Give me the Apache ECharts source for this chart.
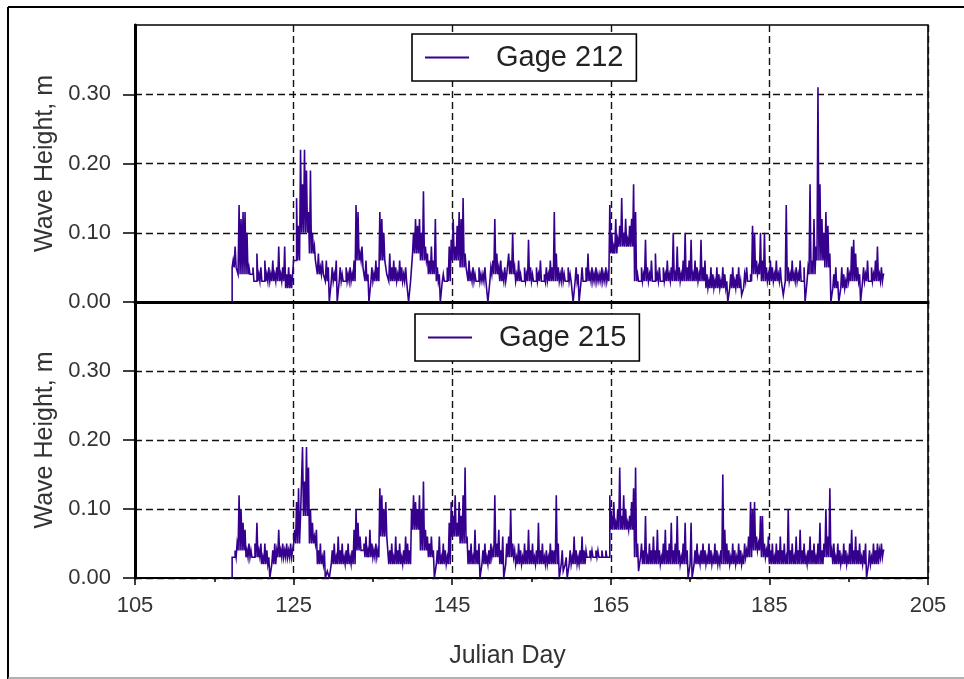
<!DOCTYPE html>
<html>
<head>
<meta charset="utf-8">
<title>Wave Height, Gage 212 and Gage 215</title>
<script src="https://cdn.jsdelivr.net/npm/echarts@6/dist/echarts.min.js"></script>
<style>
  html, body { margin: 0; padding: 0; background: #fff; }
  #chart { width: 964px; height: 679px; }
</style>
</head>
<body>
<div id="chart"></div>
<script>
// Peak readings every 6 hours from Julian day 117.25 to 199.5;
// each is followed, 3 hours later, by that day's trough level.
const DAY0 = 117.25;
const STEP = 0.25;
const FIRST_DAY = 117;

const xTicks = [105, 125, 145, 165, 185, 205];
const yTicks = [0.00, 0.10, 0.20, 0.30];

// Gage 212 wave height peaks, m (one row per Julian day)
const gage212 = [
  0.00, 0.06, 0.08,
  0.05, 0.14, 0.12, 0.13,
  0.13, 0.10, 0.05, 0.04,
  0.05, 0.03, 0.07, 0.04,
  0.05, 0.03, 0.06, 0.04,
  0.05, 0.04, 0.06, 0.04,
  0.05, 0.08, 0.04, 0.05,
  0.08, 0.04, 0.05, 0.04,
  0.02, 0.06, 0.15, 0.11,
  0.22, 0.17, 0.22, 0.19,
  0.13, 0.19, 0.10, 0.08,
  0.06, 0.07, 0.05, 0.06,
  0.04, 0.06, 0.05, 0.00,
  0.05, 0.04, 0.06, 0.00,
  0.05, 0.04, 0.03, 0.05,
  0.04, 0.05, 0.04, 0.06,
  0.14, 0.13, 0.07, 0.08,
  0.05, 0.06, 0.04, 0.00,
  0.05, 0.04, 0.06, 0.05,
  0.13, 0.12, 0.10, 0.06,
  0.04, 0.07, 0.05, 0.06,
  0.05, 0.04, 0.06, 0.05,
  0.04, 0.05, 0.03, 0.00,
  0.05, 0.10, 0.12, 0.11,
  0.12, 0.10, 0.16, 0.08,
  0.07, 0.06, 0.08, 0.06,
  0.12, 0.05, 0.04, 0.00,
  0.04, 0.03, 0.05, 0.08,
  0.09, 0.12, 0.08, 0.11,
  0.13, 0.12, 0.15, 0.07,
  0.05, 0.06, 0.04, 0.05,
  0.04, 0.03, 0.05, 0.04,
  0.04, 0.05, 0.03, 0.00,
  0.05, 0.06, 0.12, 0.07,
  0.05, 0.06, 0.04, 0.05,
  0.04, 0.07, 0.06, 0.10,
  0.05, 0.04, 0.06, 0.04,
  0.03, 0.05, 0.04, 0.09,
  0.05, 0.04, 0.03, 0.05,
  0.04, 0.06, 0.03, 0.04,
  0.05, 0.04, 0.06, 0.05,
  0.13, 0.07, 0.05, 0.04,
  0.05, 0.04, 0.03, 0.05,
  0.04, 0.03, 0.00, 0.05,
  0.04, 0.00, 0.05, 0.03,
  0.05, 0.07, 0.04, 0.05,
  0.04, 0.05, 0.04, 0.04,
  0.05, 0.04, 0.05, 0.04,
  0.14, 0.10, 0.08, 0.12,
  0.09, 0.11, 0.15, 0.10,
  0.12, 0.09, 0.11, 0.12,
  0.17, 0.13, 0.04, 0.03,
  0.05, 0.04, 0.09, 0.05,
  0.04, 0.06, 0.03, 0.07,
  0.04, 0.05, 0.03, 0.05,
  0.04, 0.06, 0.04, 0.05,
  0.10, 0.04, 0.08, 0.05,
  0.04, 0.06, 0.10, 0.05,
  0.06, 0.09, 0.04, 0.06,
  0.05, 0.04, 0.09, 0.05,
  0.06, 0.04, 0.03, 0.05,
  0.04, 0.03, 0.05, 0.04,
  0.03, 0.05, 0.04, 0.03,
  0.00, 0.04, 0.05, 0.03,
  0.04, 0.05, 0.03, 0.01,
  0.04, 0.05, 0.03, 0.04,
  0.11, 0.10, 0.06, 0.05,
  0.10, 0.06, 0.10, 0.05,
  0.04, 0.06, 0.05, 0.04,
  0.06, 0.04, 0.05, 0.03,
  0.01, 0.14, 0.05, 0.04,
  0.06, 0.04, 0.05, 0.04,
  0.06, 0.03, 0.05, 0.00,
  0.05, 0.17, 0.06, 0.12,
  0.08, 0.31, 0.17, 0.12,
  0.10, 0.13, 0.11, 0.07,
  0.00, 0.04, 0.05, 0.03,
  0.00, 0.05, 0.04, 0.03,
  0.05, 0.04, 0.08, 0.09,
  0.07, 0.05, 0.04, 0.00,
  0.05, 0.04, 0.06, 0.03,
  0.05, 0.04, 0.06, 0.08,
  0.04, 0.05, 0.04
];

// Gage 212 daily trough level, m (days 117 to 199)
const gage212Low = [
  0.05, 0.04, 0.04, 0.03, 0.03, 0.03, 0.03, 0.02, 0.06, 0.10,
  0.07, 0.04, 0.03, 0.03, 0.03, 0.03, 0.06, 0.03, 0.03, 0.06,
  0.03, 0.03, 0.03, 0.07, 0.06, 0.04, 0.03, 0.03, 0.06, 0.05,
  0.03, 0.03, 0.03, 0.04, 0.03, 0.04, 0.03, 0.03, 0.03, 0.03,
  0.03, 0.03, 0.03, 0.03, 0.03, 0.03, 0.03, 0.03, 0.07, 0.08,
  0.08, 0.03, 0.03, 0.03, 0.03, 0.03, 0.03, 0.03, 0.03, 0.03,
  0.02, 0.02, 0.02, 0.02, 0.02, 0.03, 0.04, 0.03, 0.03, 0.03,
  0.03, 0.03, 0.03, 0.04, 0.06, 0.05, 0.02, 0.02, 0.03, 0.03,
  0.03, 0.03, 0.03
];

// Gage 215 wave height peaks, m (one row per Julian day)
const gage215 = [
  0.00, 0.03, 0.04,
  0.05, 0.12, 0.10, 0.08,
  0.07, 0.04, 0.05, 0.04,
  0.03, 0.05, 0.08, 0.04,
  0.05, 0.03, 0.05, 0.04,
  0.03, 0.00, 0.04, 0.05,
  0.04, 0.07, 0.04, 0.05,
  0.04, 0.05, 0.04, 0.05,
  0.04, 0.07, 0.11, 0.13,
  0.09, 0.19, 0.14, 0.19,
  0.16, 0.10, 0.08, 0.06,
  0.07, 0.04, 0.05, 0.03,
  0.04, 0.00, 0.01, 0.00,
  0.04, 0.05, 0.03, 0.06,
  0.04, 0.05, 0.03, 0.04,
  0.05, 0.03, 0.04, 0.07,
  0.10, 0.08, 0.06, 0.04,
  0.05, 0.06, 0.04, 0.07,
  0.05, 0.04, 0.05, 0.04,
  0.13, 0.12, 0.10, 0.11,
  0.06, 0.04, 0.05, 0.03,
  0.06, 0.04, 0.05, 0.03,
  0.04, 0.06, 0.05, 0.04,
  0.10, 0.12, 0.11, 0.10,
  0.12, 0.10, 0.14, 0.07,
  0.06, 0.05, 0.06, 0.04,
  0.00, 0.04, 0.06, 0.03,
  0.05, 0.04, 0.03, 0.08,
  0.11, 0.09, 0.12, 0.08,
  0.11, 0.09, 0.12, 0.16,
  0.06, 0.04, 0.05, 0.03,
  0.07, 0.04, 0.05, 0.00,
  0.04, 0.05, 0.03, 0.04,
  0.05, 0.04, 0.12, 0.05,
  0.07, 0.04, 0.06, 0.00,
  0.05, 0.06, 0.10, 0.05,
  0.04, 0.03, 0.05, 0.04,
  0.03, 0.05, 0.04, 0.07,
  0.04, 0.05, 0.03, 0.04,
  0.08, 0.04, 0.05, 0.03,
  0.04, 0.03, 0.05, 0.04,
  0.04, 0.12, 0.05, 0.00,
  0.04, 0.01, 0.03, 0.00,
  0.04, 0.03, 0.06, 0.04,
  0.03, 0.04, 0.06, 0.04,
  0.04, 0.03, 0.04, 0.04,
  0.03, 0.04, 0.04, 0.03,
  0.04, 0.03, 0.04, 0.03,
  0.12, 0.09, 0.11, 0.08,
  0.10, 0.16, 0.09, 0.12,
  0.10, 0.08, 0.09, 0.11,
  0.13, 0.16, 0.05, 0.01,
  0.05, 0.04, 0.09, 0.03,
  0.05, 0.04, 0.06, 0.04,
  0.07, 0.04, 0.03, 0.05,
  0.07, 0.04, 0.05, 0.08,
  0.04, 0.05, 0.09, 0.04,
  0.03, 0.05, 0.08, 0.04,
  0.00, 0.08, 0.00, 0.04,
  0.05, 0.03, 0.04, 0.05,
  0.04, 0.03, 0.05, 0.04,
  0.03, 0.05, 0.04, 0.03,
  0.04, 0.15, 0.07, 0.05,
  0.04, 0.03, 0.05, 0.04,
  0.03, 0.05, 0.04, 0.03,
  0.05, 0.04, 0.06, 0.11,
  0.10, 0.11, 0.06, 0.05,
  0.09, 0.09, 0.05, 0.04,
  0.06, 0.04, 0.05, 0.03,
  0.05, 0.04, 0.06, 0.04,
  0.05, 0.03, 0.10, 0.04,
  0.05, 0.03, 0.06, 0.04,
  0.07, 0.04, 0.05, 0.03,
  0.04, 0.06, 0.04, 0.05,
  0.03, 0.05, 0.08, 0.04,
  0.05, 0.10, 0.06, 0.13,
  0.04, 0.05, 0.03, 0.05,
  0.04, 0.03, 0.05, 0.04,
  0.03, 0.05, 0.07, 0.04,
  0.06, 0.04, 0.05, 0.03,
  0.04, 0.05, 0.00, 0.04,
  0.03, 0.05, 0.04, 0.05,
  0.04, 0.05, 0.04
];

// Gage 215 daily trough level, m (days 117 to 199)
const gage215Low = [
  0.03, 0.04, 0.03, 0.03, 0.02, 0.02, 0.03, 0.03, 0.05, 0.09,
  0.05, 0.02, 0.02, 0.02, 0.02, 0.02, 0.04, 0.03, 0.03, 0.06,
  0.02, 0.02, 0.02, 0.07, 0.04, 0.03, 0.02, 0.02, 0.06, 0.05,
  0.02, 0.02, 0.02, 0.03, 0.02, 0.03, 0.02, 0.02, 0.02, 0.02,
  0.02, 0.02, 0.02, 0.02, 0.02, 0.03, 0.03, 0.03, 0.07, 0.07,
  0.07, 0.03, 0.02, 0.02, 0.02, 0.02, 0.02, 0.02, 0.02, 0.02,
  0.02, 0.02, 0.02, 0.02, 0.02, 0.03, 0.04, 0.03, 0.02, 0.02,
  0.02, 0.02, 0.02, 0.02, 0.02, 0.03, 0.02, 0.02, 0.02, 0.02,
  0.02, 0.02, 0.03
];

const FONT = "'Liberation Sans', Arial, sans-serif";
const LINE = '#36008f';

// Alternate each peak reading with the trough level of its day.
function record(peaks, lows) {
  const out = [];
  peaks.forEach((v, i) => {
    const t = DAY0 + i * STEP;
    out.push([t, v]);
    if (i < peaks.length - 1) {
      out.push([t + STEP / 2, Math.min(lows[Math.floor(t) - FIRST_DAY], peaks[i + 1])]);
    }
  });
  return out;
}

const gridLine = { show: true, lineStyle: { color: '#111', width: 1.4, type: [7, 4] } };

function yAxisFor(gridIndex) {
  return {
    type: 'value', gridIndex: gridIndex,
    min: 0, max: 0.4, interval: 0.1,
    name: 'Wave Height, m', nameLocation: 'middle', nameGap: 76,
    nameTextStyle: { fontFamily: FONT, fontSize: 25, color: '#333' },
    axisLine: { show: true, lineStyle: { color: '#000', width: 3 } },
    axisTick: { show: true, length: 12, customValues: yTicks, lineStyle: { color: '#000', width: 1.5 } },
    axisLabel: {
      customValues: yTicks, margin: 24, padding: [6, 0, 0, 0],
      fontFamily: FONT, fontSize: 22, color: '#333',
      formatter: v => v.toFixed(2)
    },
    splitLine: gridLine
  };
}

function legendFor(name, left, top) {
  return {
    data: [{ name: name, icon: 'rect' }], left: left, top: top,
    backgroundColor: '#fff', borderColor: '#000', borderWidth: 1.6, borderRadius: 0,
    padding: [7, 13, 7, 13], itemWidth: 44, itemHeight: 2,
    itemStyle: { color: LINE },
    textStyle: { fontFamily: FONT, fontSize: 29, color: '#222', padding: [0, 0, 0, 22], lineHeight: 33 }
  };
}

function lineSeries(name, idx, data) {
  return {
    name: name, type: 'line', xAxisIndex: idx, yAxisIndex: idx,
    data: data, step: 'start', symbol: 'none', showSymbol: false, sampling: null,
    lineStyle: { color: LINE, width: 1.6, join: 'miter' }, itemStyle: { color: LINE }, z: 3
  };
}

const option = {
  animation: false,
  backgroundColor: '#fff',
  grid: [
    { left: 135, top: 25, width: 793, height: 277, show: true, borderColor: '#000', borderWidth: 1.6, backgroundColor: 'transparent' },
    { left: 135, top: 302, width: 793, height: 276, show: true, borderColor: '#000', borderWidth: 1.6, backgroundColor: 'transparent' }
  ],
  xAxis: [
    {
      type: 'value', gridIndex: 0, min: 105, max: 205, interval: 20,
      axisLine: { show: true, onZero: false, lineStyle: { color: '#000', width: 3 } },
      axisTick: { show: false }, axisLabel: { show: false },
      splitLine: gridLine
    },
    {
      type: 'value', gridIndex: 1, min: 105, max: 205, interval: 20,
      name: 'Julian Day', nameLocation: 'middle', nameGap: 66,
      nameTextStyle: { fontFamily: FONT, fontSize: 25, color: '#333', padding: [0, 48, 0, 0] },
      axisLine: { show: true, onZero: false, lineStyle: { color: '#000', width: 2 } },
      axisTick: { show: true, length: 7, customValues: xTicks, lineStyle: { color: '#000', width: 1.5 } },
      axisLabel: { margin: 17, customValues: xTicks, fontFamily: FONT, fontSize: 22, color: '#333' },
      splitLine: gridLine
    },
    {
      // minor ticks every 10 days, drawn inside the lower panel
      type: 'value', gridIndex: 1, min: 105, max: 205, interval: 10,
      axisLine: { show: false },
      axisTick: { show: true, inside: true, length: 4, lineStyle: { color: '#000', width: 1.5 } },
      axisLabel: { show: false }, splitLine: { show: false }
    }
  ],
  yAxis: [yAxisFor(0), yAxisFor(1)],
  legend: [legendFor('Gage 212', 412, 34), legendFor('Gage 215', 415, 314)],
  series: [
    lineSeries('Gage 212', 0, record(gage212, gage212Low)),
    lineSeries('Gage 215', 1, record(gage215, gage215Low))
  ],
  graphic: [
    { type: 'line', shape: { x1: 8, y1: 7, x2: 964, y2: 7 }, style: { stroke: '#000', lineWidth: 2 } },
    { type: 'line', shape: { x1: 8, y1: 7, x2: 8, y2: 679 }, style: { stroke: '#000', lineWidth: 2 } },
    { type: 'line', shape: { x1: 8, y1: 678, x2: 964, y2: 678 }, style: { stroke: '#999', lineWidth: 1.5 } }
  ]
};

const chart = echarts.init(document.getElementById('chart'), null, { renderer: 'canvas' });
chart.setOption(option);
</script>
</body>
</html>
